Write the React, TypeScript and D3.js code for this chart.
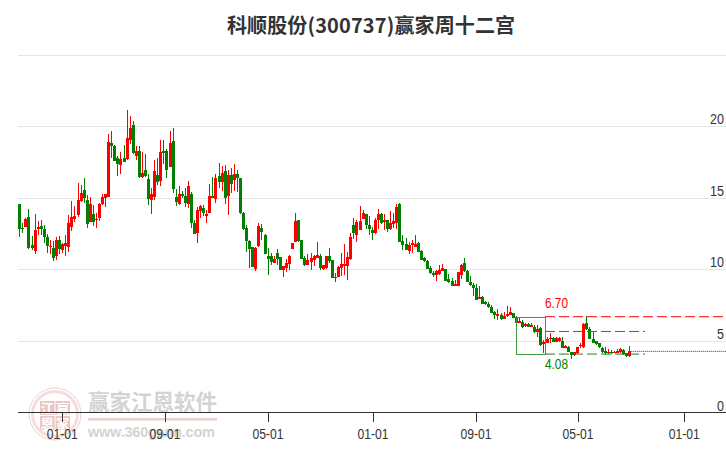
import React from 'react';
import * as d3 from 'd3';

// weekly candles
const opens = [14.56,12.88,12.98,13.65,11.67,11.30,12.84,13.02,12.79,12.25,11.58,11.46,10.95,12.04,11.37,11.65,11.53,12.98,13.49,13.79,14.74,15.54,14.81,13.32,13.84,13.49,13.60,14.56,15.00,15.07,18.80,18.63,17.75,17.31,17.77,17.70,19.03,20.08,17.93,18.24,16.44,16.93,16.30,14.84,15.07,16.58,16.19,18.26,18.26,17.14,18.96,15.05,14.56,15.26,15.14,14.56,15.26,13.23,12.53,14.05,14.28,13.74,13.93,15.12,14.91,16.51,16.09,16.86,15.12,16.58,16.23,16.65,16.37,13.93,12.86,12.00,11.54,10.02,11.63,12.89,12.40,10.93,10.93,10.44,11.12,10.86,9.95,10.07,10.37,11.42,11.91,13.42,12.05,10.77,10.30,10.51,10.65,10.79,10.93,10.05,10.09,10.93,10.65,9.42,9.46,10.09,10.23,10.23,10.72,13.10,12.40,12.75,13.51,13.86,13.10,12.75,12.54,13.44,13.86,13.31,13.44,12.82,13.17,13.24,14.56,11.98,11.77,11.28,11.70,11.56,11.86,11.28,10.79,10.58,10.09,9.74,9.60,9.67,9.88,10.02,9.32,9.18,8.84,8.84,9.60,10.44,9.88,9.11,8.91,8.70,7.93,8.07,7.72,7.58,7.34,7.04,6.74,6.81,6.55,6.74,6.81,6.92,6.69,6.27,6.34,6.06,6.15,5.99,5.99,5.64,5.92,4.78,4.87,5.11,5.22,4.94,5.01,5.01,4.52,4.59,4.22,4.01,4.13,4.62,4.55,6.22,5.85,5.15,4.97,4.83,4.52,4.31,4.18,4.24,4.18,4.15,4.22,4.36,4.13,3.94];
const closes = [12.84,12.79,13.49,11.51,11.51,12.74,12.95,12.79,12.28,11.65,11.65,10.81,12.04,11.44,11.74,11.81,13.21,13.67,13.72,14.84,15.33,15.00,13.18,14.56,13.32,13.53,14.56,15.05,15.23,18.89,18.63,17.58,17.33,17.70,17.51,19.14,19.87,18.10,18.24,16.44,16.70,16.51,14.93,15.23,16.86,16.12,18.19,18.10,16.93,18.82,15.61,14.70,15.23,15.12,14.63,15.82,13.23,12.49,14.12,14.40,13.95,13.86,15.12,14.98,16.37,16.09,16.72,14.98,16.58,15.96,16.65,16.37,13.93,12.81,12.00,11.44,10.19,11.47,13.03,12.63,11.07,10.70,10.51,10.70,10.72,9.98,10.21,10.42,10.93,11.84,13.37,11.98,10.72,10.30,10.65,10.77,10.93,10.98,10.09,10.28,10.93,10.58,9.39,9.46,10.16,10.37,10.37,10.86,12.26,12.51,13.31,13.37,13.93,13.10,12.82,12.51,13.44,13.86,13.21,13.44,12.82,13.24,13.37,14.35,11.91,11.70,11.35,11.70,11.84,11.77,11.21,10.65,10.58,10.02,9.74,9.60,9.88,9.95,10.09,9.18,9.11,8.84,8.98,9.81,10.30,9.88,9.11,8.91,8.70,7.86,8.07,7.58,7.58,7.37,6.97,6.81,6.88,6.50,6.71,6.88,6.99,6.62,6.27,6.41,5.99,6.15,5.99,6.13,5.60,5.80,4.71,4.92,5.15,5.18,4.94,5.22,5.18,4.52,4.64,4.22,4.04,4.20,4.55,4.69,6.18,5.80,5.15,4.87,4.78,4.59,4.22,4.13,4.24,4.15,4.24,4.31,4.43,4.08,3.92,4.27];
const highs = [14.56,13.21,13.58,14.21,12.32,13.86,13.39,13.44,13.09,12.46,12.04,12.00,12.25,12.32,11.81,12.39,13.77,14.77,14.42,16.02,15.89,16.37,15.16,15.05,14.47,13.95,14.63,15.26,15.23,19.45,19.66,18.68,17.91,18.19,18.68,21.12,20.70,20.33,18.61,18.61,18.19,18.05,16.65,15.68,17.63,17.77,19.03,19.03,18.40,19.66,19.87,15.61,15.82,15.44,15.68,16.16,15.40,13.44,14.37,14.49,14.49,14.14,15.96,16.44,16.65,17.42,17.21,17.28,16.93,17.07,17.35,16.93,16.37,14.00,13.09,12.05,11.54,11.54,13.24,13.17,12.47,11.47,11.12,10.93,11.40,10.86,10.23,10.72,10.98,11.84,13.93,13.44,12.05,10.93,11.07,11.12,11.00,11.91,11.07,10.28,10.93,11.49,10.65,9.74,10.23,11.12,11.77,11.21,12.51,13.58,13.44,14.42,14.14,13.86,13.72,12.96,13.58,14.21,13.93,13.86,13.44,14.07,13.93,14.56,14.63,12.40,12.19,11.91,12.05,12.40,11.91,11.35,10.86,10.65,10.23,9.88,9.95,10.30,10.37,10.02,9.67,9.39,9.25,9.81,10.37,10.79,9.95,9.53,9.04,8.98,8.84,8.14,7.79,7.72,7.50,7.11,7.20,6.92,7.02,7.43,7.34,6.97,6.74,6.57,6.46,6.22,6.22,6.22,6.11,6.11,5.94,5.06,5.25,5.53,5.29,5.29,5.25,5.25,4.71,4.64,4.24,4.24,4.55,4.83,6.22,6.74,5.94,5.64,5.01,4.83,4.59,4.59,4.41,4.36,4.31,4.41,4.52,4.41,4.18,4.64];
const lows = [12.28,12.56,12.93,11.44,11.35,11.07,12.37,12.39,11.86,11.16,11.07,10.60,10.65,11.07,11.11,10.95,11.21,12.70,13.32,13.67,14.67,14.60,12.88,13.28,13.00,12.88,13.39,14.47,14.37,15.07,17.75,17.54,16.51,16.65,17.49,17.63,18.75,18.05,17.63,16.37,16.40,16.42,14.49,13.86,14.84,15.89,15.82,17.35,16.37,17.12,15.30,14.42,14.49,14.98,14.35,14.28,12.88,12.44,11.83,13.58,13.72,13.23,13.91,14.95,14.63,15.68,15.47,14.56,13.79,15.35,15.44,15.40,13.86,12.74,11.21,10.09,10.14,9.88,11.58,12.05,11.07,9.60,10.30,10.44,10.30,9.95,9.46,9.81,9.95,11.42,11.91,11.91,10.72,10.23,10.30,9.95,10.23,10.79,9.95,9.95,10.05,10.42,9.39,9.11,9.44,9.53,9.60,9.25,10.65,12.12,11.91,12.75,13.51,12.82,12.40,12.05,12.47,12.82,13.17,12.75,12.61,12.75,12.89,12.82,11.91,11.35,11.35,11.07,11.14,11.56,11.21,10.65,10.51,10.02,9.67,9.46,9.18,9.60,9.88,9.18,9.04,8.84,8.84,8.84,9.32,9.81,9.11,8.84,8.14,7.86,7.93,7.58,7.51,7.30,6.92,6.53,6.46,6.46,6.55,6.64,6.81,6.57,6.22,6.22,5.87,5.99,5.94,5.94,5.53,5.29,4.66,4.13,4.83,4.87,4.90,4.90,4.90,4.48,4.48,4.20,3.76,3.94,4.08,4.48,4.52,5.76,5.11,4.83,4.71,4.48,4.18,3.99,4.08,4.08,4.13,4.13,4.13,4.04,3.90,3.87];

const tickLabels = ['01-01', '09-01', '05-01', '01-01', '09-01', '05-01', '01-01'];
const tickWeeks = [14, 47.5, 81.1, 115.4, 149, 182.3, 216.9];
const priceTicks = [0, 5, 10, 15, 20, 25];
const logoChars = ['江', '赢', '恩', '家'];

// box of the twelve palaces
const boxHigh = 6.7;
const boxLow = 4.08;
const boxMid = 5.66;
const boxFrom = 162.2;
const boxTo = 171.5;

const RED = '#ff0000';
const GREEN = '#008000';
const cjk = '"Noto Sans CJK SC", sans-serif';

const width = 726;
const height = 450;

export default function App() {
  const x = d3.scaleLinear().domain([0, 199]).range([19.3, 629.3]);
  const y = d3.scaleLinear().domain([0, 25]).range([412.5, 54.5]);

  return (
    <svg
      width={width}
      height={height}
      style={{ position: 'absolute', left: 0, top: 0, fontFamily: '"Liberation Sans", Arial, sans-serif' }}
    >
      <rect width={width} height={height} fill="#fff" />

      <text x={371} y={33} textAnchor="middle" fontSize={20} fontWeight="bold" fill="#333" textLength={288} style={{ fontFamily: cjk }}>
        科顺股份(300737)赢家周十二宫
      </text>

      {/* grid */}
      {priceTicks.slice(1).map(t => (
        <line key={t} x1={18} x2={width} y1={Math.round(y(t)) + 0.5} y2={Math.round(y(t)) + 0.5} stroke="#e6e6e6" />
      ))}

      {/* watermark */}
      <g opacity={0.3}>
        <circle cx={55} cy={414} r={26} fill="none" stroke="#d06060" strokeWidth={1} />
        <circle cx={55} cy={414} r={22.5} fill="none" stroke="#e09090" strokeWidth={3} />
        {logoChars.map((s, i) => {
          const bx = 40 + (i % 2) * 15.5;
          const by = 401 + Math.floor(i / 2) * 15;
          return (
            <g key={s}>
              <rect x={bx} y={by} width={14.5} height={14} fill="#c84040" />
              <text x={bx + 7.25} y={by + 12} textAnchor="middle" fontSize={13} fontWeight="bold" fill="#fff" style={{ fontFamily: cjk }}>
                {s}
              </text>
            </g>
          );
        })}
        <text x={88} y={410} fontSize={21.5} fontWeight="bold" fill="#707070" style={{ fontFamily: cjk }}>
          赢家江恩软件
        </text>
        <rect x={88} y={418} width={129} height={2.5} fill="#c06060" />
        <text x={88} y={437} fontSize={14.5} fontWeight="bold" fill="#707070" textLength={127}>
          www.360gann.com
        </text>
      </g>

      {/* candles */}
      {opens.map((o, i) => {
        const c = closes[i];
        const color = c >= o ? RED : GREEN;
        const cx = Math.round(x(i));
        const top = Math.round(y(Math.max(o, c)));
        const bottom = Math.round(y(Math.min(o, c)));
        return (
          <g key={i} shapeRendering="crispEdges">
            <line x1={cx + 0.5} x2={cx + 0.5} y1={Math.round(y(highs[i]))} y2={Math.round(y(lows[i]))} stroke={color} />
            <rect x={cx - 1} y={top} width={3} height={Math.max(1, bottom - top)} fill={color} />
          </g>
        );
      })}

      {/* axis */}
      <line x1={18} x2={width} y1={412.5} y2={412.5} stroke="#333" />
      {tickWeeks.map((w, i) => (
        <g key={i}>
          <line x1={Math.round(x(w)) + 0.5} x2={Math.round(x(w)) + 0.5} y1={412} y2={422} stroke="#333" />
          <text x={x(w)} y={439} textAnchor="middle" fontSize={14} fill="#333" textLength={31} lengthAdjust="spacingAndGlyphs">
            {tickLabels[i]}
          </text>
        </g>
      ))}
      {priceTicks.slice(0, -1).map(t => (
        <text
          key={t}
          x={724}
          y={y(t) - 2}
          textAnchor="end"
          fontSize={14}
          fill="#333"
          textLength={t >= 10 ? 14 : 7}
          lengthAdjust="spacingAndGlyphs"
        >
          {t}
        </text>
      ))}

      {/* twelve palaces box */}
      <rect
        x={Math.round(x(boxFrom)) + 0.5}
        y={Math.round(y(boxHigh)) + 0.5}
        width={Math.round(x(boxTo)) - Math.round(x(boxFrom))}
        height={Math.round(y(boxLow)) - Math.round(y(boxHigh))}
        fill="none"
        stroke="#3c9a3c"
      />
      <line x1={x(boxTo)} x2={width} y1={y(boxHigh)} y2={y(boxHigh)} stroke="#ff3333" strokeDasharray="10 4" strokeWidth={1.2} />
      <line x1={x(boxTo)} x2={645} y1={y(boxMid)} y2={y(boxMid)} stroke="#2c7a2c" strokeDasharray="10 4" />
      <line x1={x(boxTo)} x2={645} y1={y(boxLow)} y2={y(boxLow)} stroke="#2c7a2c" strokeDasharray="10 4" />
      <line x1={x(199) + 2} x2={width} y1={y(closes[199])} y2={y(closes[199])} stroke="#333" strokeDasharray="1 1" />
      <text x={x(boxTo) + 11.5} y={y(boxHigh) - 8.5} textAnchor="middle" fontSize={14} fill={RED} textLength={23} lengthAdjust="spacingAndGlyphs">
        {boxHigh.toFixed(2)}
      </text>
      <text x={x(boxTo) + 11.5} y={y(boxLow) + 14.5} textAnchor="middle" fontSize={14} fill={GREEN} textLength={23} lengthAdjust="spacingAndGlyphs">
        {boxLow.toFixed(2)}
      </text>
    </svg>
  );
}
